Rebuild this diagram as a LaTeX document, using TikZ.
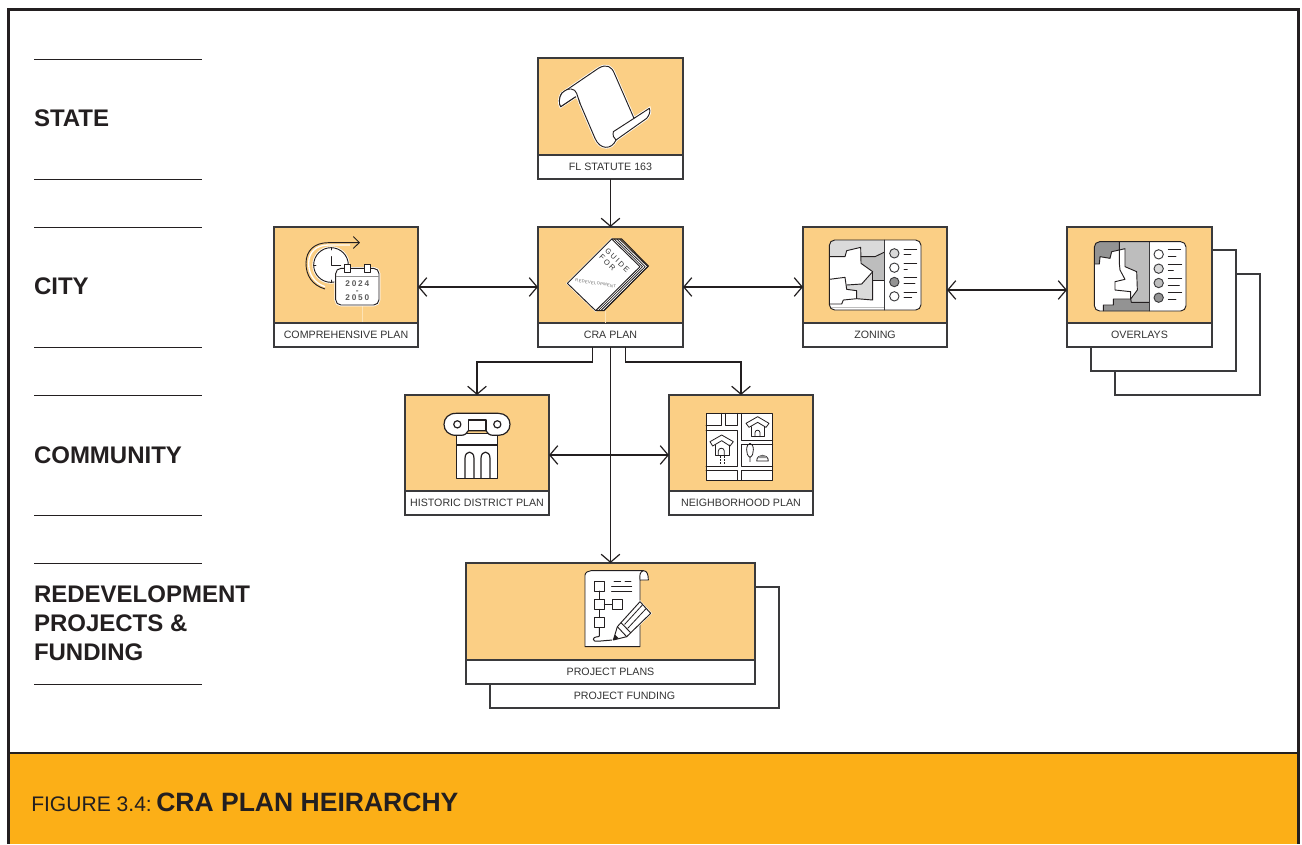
\documentclass[tikz,border=0pt]{standalone}
\usepackage{fontspec}
\setmainfont{Liberation Sans}
\usetikzlibrary{arrows.meta}
\definecolor{ink}{HTML}{231F20}
\definecolor{boxline}{HTML}{3A3A3C}
\definecolor{art}{HTML}{FBCF85}
\definecolor{band}{HTML}{FCAF17}
\definecolor{lblue}{HTML}{DADADA}
\definecolor{midg}{HTML}{BDBDBD}
\definecolor{darkg}{HTML}{939393}
\definecolor{txt}{HTML}{333333}
\definecolor{pale}{HTML}{FDE3B5}
\tikzset{
  frameline/.style={draw=ink,line width=2.2pt},
  rule/.style={draw=ink,line width=.75pt},
  heading/.style={font=\fontsize{18}{21.75}\selectfont\bfseries,text=ink,inner sep=0pt,outer sep=0pt,align=left},
  cardframe/.style={draw=boxline,fill=white,line width=.9pt,inner sep=0pt,outer sep=0pt},
  artbox/.style={draw=boxline,fill=art,line width=.9pt,inner sep=0pt,outer sep=0pt},
  labelbox/.style={draw=boxline,fill=white,line width=.9pt,inner sep=0pt,outer sep=0pt,font=\fontsize{8}{10}\selectfont,text=txt},
  link/.style={draw=ink,line width=.9pt,-{Straight Barb[length=6pt,width=14pt,line width=.9pt]}},
  dlink/.style={draw=ink,line width=.9pt,{Straight Barb[length=6pt,width=14pt,line width=.9pt]}-{Straight Barb[length=6pt,width=14pt,line width=.9pt]}},
  ic/.style={draw=ink,line width=.7pt,line join=round,line cap=round},
  ww/.style={ic,fill=white,preaction={draw=white,line width=2pt}},
  icontext/.style={inner sep=0pt,outer sep=0pt,text=txt},
}
\newcommand{\card}[7]{%
  \node[cardframe,anchor=north,minimum width=#4*.75pt,minimum height=#5*.75pt] (#1) at (#2,#3) {};
  \node[artbox,anchor=north,minimum width=#4*.75pt,minimum height=(#5-#6)*.75pt] (#1art) at (#1.north) {};
  \node[labelbox,anchor=south,minimum width=#4*.75pt,minimum height=#6*.75pt] (#1lab) at (#1.south) {\raisebox{-.6pt}{#7}};
}
\begin{document}
\begin{tikzpicture}[x=.75pt,y=-.75pt]
\useasboundingbox (0,0) rectangle (1302,844);
\fill[white] (0,0) rectangle (1302,844);
% footer band and frame
\fill[band] (8,753) rectangle (1299,844);
\draw[frameline] (8.5,844) -- (8.5,9.5) -- (1298.5,9.5) -- (1298.5,844);
\draw[frameline] (8.5,753) -- (1298.5,753);
\node[anchor=base west,inner sep=0pt,font=\fontsize{15.8}{18}\selectfont,text=ink] (figno) at (31,811) {FIGURE 3.4:};
\node[anchor=base west,inner sep=0pt,font=\fontsize{19.9}{24}\selectfont\bfseries,text=ink] (figtitle) at (156,811) {CRA PLAN HEIRARCHY};
% left column
\foreach \a/\b in {59/179,227/347,395/515,563/684}{
  \draw[rule] (34,\a) -- (202,\a);
  \draw[rule] (34,\b) -- (202,\b);
}
\node[heading,anchor=base west] (state) at (34,126) {STATE};
\node[heading,anchor=base west] (city) at (34,294) {CITY};
\node[heading,anchor=base west] (community) at (34,463) {COMMUNITY};
\node[heading,anchor=west] (redev) at (34,623.5) {REDEVELOPMENT\\PROJECTS \&\\FUNDING};
% back sheets
\node[cardframe,anchor=north west,minimum width=145*.75pt,minimum height=121*.75pt] (ovc) at (1115,274) {};
\node[cardframe,anchor=north west,minimum width=145*.75pt,minimum height=121*.75pt] (ovb) at (1091,250) {};
\node[cardframe,anchor=north west,minimum width=289*.75pt,minimum height=121*.75pt] (funding) at (490,587) {};
\node[inner sep=0pt,font=\fontsize{8}{10}\selectfont,text=txt] (fundinglab) at (624.5,695.5) {PROJECT FUNDING};
% cards
\card{fl}{610.5}{58}{145}{121}{24}{FL STATUTE 163}
\card{comp}{346}{227}{144}{120}{24}{COMPREHENSIVE PLAN}
\card{cra}{610.5}{227}{145}{120}{24}{CRA PLAN}
\card{zoning}{875}{227}{144}{120}{24}{ZONING}
\card{overlays}{1139.5}{227}{145}{120}{24}{OVERLAYS}
\card{hist}{477}{395}{144}{120}{24}{HISTORIC DISTRICT PLAN}
\card{neigh}{741}{395}{144}{120}{24}{NEIGHBORHOOD PLAN}
\card{proj}{610.5}{563}{289}{121}{24}{PROJECT PLANS}
% connectors
\draw[link] (fl.south) -- (cra.north);
\draw[dlink] (comp.east) -- (cra.west);
\draw[dlink] (cra.east) -- (zoning.west);
\draw[dlink] ([yshift=-2.25pt]zoning.east) -- ([yshift=-2.25pt]overlays.west);
\draw[link] ([xshift=-13.5pt]cra.south) -- ++(0,15) -| (hist.north);
\draw[link] ([xshift=11.25pt]cra.south) -- ++(0,15) -| (neigh.north);
\draw[link] (cra.south) -- (proj.north);
\draw[dlink] (hist.east) -- (neigh.west);
% --- scroll icon
\begin{scope}[shift={(530,50)},x=.25pt,y=-.25pt]
\draw[ww] (95,130) -- (205,55) .. controls (230,40) and (245,50) .. (253,70) -- (312,205) -- (358,175) .. controls (362,185) and (358,195) .. (350,205) -- (258,270) .. controls (245,300) and (210,300) .. (195,265) -- (150,160) .. controls (145,145) and (143,140) .. (137,140) -- (92,170) .. controls (85,160) and (88,140) .. cycle;
\fill[white] (95,130) .. controls (115,110) and (135,115) .. (140,130) -- (150,160) -- (137,140) -- (92,170) .. controls (85,160) and (88,140) .. cycle;
\draw[ic] (95,130) .. controls (88,140) and (85,160) .. (92,170) -- (137,140);
\draw[ic] (95,130) .. controls (115,110) and (135,115) .. (140,130) -- (150,160);
\draw[ic] (250,245) -- (312,205);
\draw[ic] (250,245) .. controls (248,255) and (250,265) .. (258,270);
\end{scope}
% --- clock and calendar icon
\begin{scope}[shift={(270,220)},x=.25pt,y=-.25pt]
\draw[ink,line width=.7pt] (165,207) .. controls (125,195) and (108,165) .. (108,130) .. controls (108,90) and (135,68) .. (175,68) -- (268,68);
\draw[white,line width=1pt] (165,200) .. controls (135,190) and (116,165) .. (116,130) .. controls (116,95) and (140,75) .. (175,75) -- (240,75);
\draw[ic] (250,50) -- (268,68) -- (250,85);
\draw[ww] (183,135) circle (52);
\draw[ic] (183,110) -- (183,135) -- (212,135);
\draw[ic] (183,83) -- (183,90);
\draw[ic] (131,135) -- (138,135);
\draw[ic] (183,180) -- (183,187);
\draw[pale,line width=.75pt] (277,255) -- (277,307);
\draw[ww,rounded corners=4pt] (197,145) rectangle (327,255);
\draw[darkg,line width=.9pt] (197,170) -- (327,170);
\draw[ic,fill=white] (223,133) rectangle (241,157);
\draw[ic,fill=white] (283,133) rectangle (301,157);
\node[icontext,align=center,font=\fontsize{6.2}{5.1}\selectfont\bfseries\addfontfeature{LetterSpace=22},text=txt!80] (years) at (262,212) {2024\\-\\2050};
\end{scope}
% --- CRA guide icon
\begin{scope}[shift={(530,220)},x=.25pt,y=-.25pt]
\draw[pale,line width=.75pt] (225,272) -- (225,308);
\foreach \d/\c in {25/ink,21/white,17/ink,13/white,9/ink,5/white}{
  \fill[\c] (245+\d,57) -- (330+\d,140) -- (197+\d,272) -- (112+\d,190) -- cycle;
}
\draw[ic,line width=.7pt,fill=white,preaction={draw=white,line width=1.5pt}] (245,57) -- (330,140) -- (197,272) -- (112,190) -- cycle;
\draw[ink,line width=.8pt] (245,57) -- (275,57) -- (355,138) -- (222,272) -- (197,272);
\node[icontext,rotate=-44,align=left,font=\fontsize{5.6}{6.3}\selectfont\addfontfeature{LetterSpace=22}] (guide) at (253,130) {GUIDE\\FOR};
\node[icontext,rotate=-9,text=txt!75,font=\fontsize{3.1}{4}\selectfont\addfontfeature{LetterSpace=8}] (redevw) at (197,190) {REDEVELOPMENT};
\end{scope}
% --- zoning icon
\begin{scope}[shift={(800,220)},x=.25pt,y=-.25pt]
\fill[white,rounded corners=4pt] (88,60) rectangle (363,270);
\begin{scope}
\clip[rounded corners=4pt] (88,60) rectangle (363,270);
\fill[lblue] (88,60) -- (252,60) -- (252,97) -- (225,110) -- (183,110) -- (182,82) -- (140,92) -- (135,110) -- (88,110) -- cycle;
\fill[midg] (183,110) -- (225,110) -- (252,97) -- (252,182) -- (218,182) -- (218,155) -- (183,130) -- cycle;
\fill[lblue] (140,195) -- (185,192) -- (218,158) -- (218,240) -- (168,236) -- (170,212) -- (140,208) -- cycle;
\draw[ic] (88,110) -- (135,110) -- (140,92) -- (182,82) -- (183,130) -- (218,155) -- (185,192) -- (140,195);
\draw[ic] (183,110) -- (225,110) -- (252,97);
\draw[ic] (218,155) -- (218,182) -- (252,182);
\draw[ic] (88,178) -- (135,172) -- (140,208) -- (170,212) -- (170,236) -- (130,240) -- (125,252) -- (88,252);
\draw[ic] (170,236) -- (218,240) -- (218,182);
\draw[midg,line width=.8pt] (88,262) -- (252,262);
\end{scope}
\draw[ic,draw=boxline] (252,60) -- (252,270);
\draw[ic,rounded corners=4pt] (88,60) rectangle (363,270);
\foreach \y/\f in {100/lblue,143/white,186/darkg,229/white}{\draw[ic,draw=boxline,fill=\f] (283,\y) circle (3.5pt);}
\foreach \y/\a/\b in {100/350/333,143/350/322,186/350/345,229/350/335}{
  \draw[ic,line width=.6pt] (312,\y-13) -- (\a,\y-13);
  \draw[ic,line width=.6pt] (312,\y+4) -- (\b,\y+4);
}
\end{scope}
% --- overlays icon
\begin{scope}[shift={(1060,220)},x=.25pt,y=-.25pt]
\fill[white,rounded corners=4pt] (103,65) rectangle (378,273);
\begin{scope}
\clip[rounded corners=4pt] (103,65) rectangle (378,273);
\fill[midg] (103,65) rectangle (267,273);
\fill[darkg] (103,65) -- (178,65) -- (178,90) -- (155,95) -- (150,115) -- (120,110) -- (118,132) -- (103,132) -- cycle;
\fill[darkg] (130,273) -- (130,255) -- (160,255) -- (160,237) -- (212,237) -- (214,247) -- (267,247) -- (267,273) -- cycle;
\fill[white] (103,132) -- (118,132) -- (120,110) -- (150,115) -- (155,95) -- (178,90) -- (195,86) -- (195,140) -- (230,155) -- (232,210) -- (212,237) -- (160,237) -- (160,255) -- (130,255) -- (130,273) -- (103,273) -- cycle;
\draw[ic] (178,65) -- (178,90) -- (155,95) -- (150,115) -- (120,110) -- (118,132) -- (103,132);
\draw[ic] (178,90) -- (195,86) -- (195,140) -- (230,155) -- (232,210) -- (212,237) -- (160,237) -- (160,255) -- (130,255) -- (130,273);
\draw[ic] (178,90) -- (178,130) -- (180,150) -- (195,178) -- (165,185) -- (165,210) -- (212,215) -- (212,237);
\draw[ic] (212,237) -- (214,247) -- (267,247);
\end{scope}
\draw[ic,draw=boxline] (267,65) -- (267,273);
\draw[ic,rounded corners=4pt] (103,65) rectangle (378,273);
\foreach \y/\f in {103/white,146/lblue,189/midg,233/darkg}{\draw[ic,draw=boxline,fill=\f] (296,\y) circle (3.5pt);}
\foreach \y/\a/\b in {88/362/348,132/365/340,176/365/358,218/365/348}{
  \draw[ic,line width=.6pt] (325,\y) -- (\a,\y);
  \draw[ic,line width=.6pt] (325,\y+20) -- (\b,\y+20);
}
\end{scope}
% --- column icon
\begin{scope}[shift={(400,390)},x=.25pt,y=-.25pt]
\draw[ic,line width=.9pt,fill=white] (170,130) rectangle (292,265);
\draw[ic,line width=.9pt] (170,165) -- (292,165);
\draw[ic,line width=.9pt,fill=white] (168,136) .. controls (146,136) and (132,122) .. (132,103) .. controls (132,84) and (146,70) .. (168,70) -- (295,70) .. controls (316,70) and (330,84) .. (330,103) .. controls (330,122) and (316,136) .. (295,136) -- (280,136) .. controls (268,136) and (262,130) .. (258,122) -- (205,122) .. controls (201,130) and (195,136) .. (182,136) -- cycle;
\draw[ic,line width=.9pt] (205,122) -- (205,90) -- (258,90) -- (258,122);
\draw[ic,line width=.9pt] (172,103) circle (2.7pt);
\draw[ic,line width=.9pt] (292,103) circle (2.7pt);
\foreach \a in {195,243}{
  \draw[ic,line width=.9pt] (\a,265) -- (\a,205) .. controls (\a,180) and (\a+27,180) .. (\a+27,205) -- (\a+27,265);
}
\end{scope}
% --- neighbourhood icon
\begin{scope}[shift={(665,390)},x=.25pt,y=-.25pt]
\fill[white] (123,70) rectangle (323,270);
\draw[ic,line width=.6pt] (123,70) rectangle (323,270);
\draw[ic,line width=.6pt] (123,105) -- (168,105) -- (168,70);
\draw[ic,line width=.6pt] (180,70) -- (180,105) -- (218,105) -- (218,70);
\draw[ic,line width=.6pt] (123,120) -- (218,120) -- (218,228) -- (123,228);
\draw[ic,line width=.6pt] (230,70) -- (230,150) -- (323,150);
\draw[ic,line width=.6pt] (230,270) -- (230,240) -- (323,240);
\draw[ic,line width=.6pt] (123,240) -- (218,240) -- (218,270);
\draw[ic,line width=.6pt] (323,163) -- (230,163) -- (230,228) -- (323,228);
\draw[ic,line width=.6pt] (243,100) -- (278,80) -- (312,100) -- (303,112) -- (278,97) -- (252,112) -- cycle;
\draw[ic,line width=.6pt] (258,110) -- (258,140) -- (298,140) -- (298,110);
\draw[ic,line width=.6pt] (270,140) -- (270,128) .. controls (270,118) and (285,118) .. (285,128) -- (285,140);
\draw[ic,line width=.6pt] (135,155) -- (170,135) -- (205,155) -- (195,168) -- (170,152) -- (143,168) -- cycle;
\draw[ic,line width=.6pt] (150,165) -- (150,195) -- (192,195) -- (192,165);
\draw[ic,line width=.6pt] (160,195) -- (160,183) .. controls (160,172) and (178,172) .. (178,183) -- (178,195);
\draw[ink,line width=.5pt,dash pattern=on 1.5pt off 1pt] (165,197) -- (165,228);
\draw[ink,line width=.5pt,dash pattern=on 1.5pt off 1pt] (177,197) -- (177,228);
\draw[ic,line width=.6pt] (255,202) .. controls (240,195) and (243,160) .. (255,160) .. controls (267,160) and (270,195) .. (255,202) -- (255,215);
\draw[ic,line width=.6pt] (275,213) .. controls (275,190) and (310,190) .. (310,213) -- cycle;
\fill[darkg] (278,204) .. controls (282,193) and (303,193) .. (307,204) -- cycle;
\end{scope}
% --- project icon
\begin{scope}[shift={(560,560)},x=.25pt,y=-.25pt]
\draw[ic,fill=white] (93,32) -- (250,32) .. controls (262,32) and (265,45) .. (265,60) -- (240,60) -- (240,260) -- (75,260) -- (75,45) .. controls (75,38) and (85,32) .. (93,32) -- cycle;
\draw[ic] (240,60) .. controls (238,45) and (240,35) .. (250,32);
\foreach \x/\y in {103/63,103/118,157/118,103/173}{\draw[ic,line width=.75pt] (\x,\y) rectangle ++(30,30);}
\draw[ic,line width=.75pt] (118,93) -- (118,118);
\draw[ic,line width=.75pt] (118,148) -- (118,173);
\draw[ic,line width=.75pt] (133,133) -- (157,133);
\draw[ic,line width=.75pt] (118,203) -- (118,228) .. controls (118,232) and (100,228) .. (100,238) .. controls (100,248) and (120,242) .. (160,240);
\draw[ic,line width=.65pt] (162,63) -- (182,63);
\draw[ic,line width=.65pt] (195,63) -- (213,63);
\draw[ic,line width=.65pt] (155,78) -- (215,78);
\draw[ic,line width=.65pt] (155,93) -- (215,93);
\draw[ic,fill=white,preaction={draw=white,line width=1.5pt}] (160,240) -- (172,200) -- (240,125) -- (272,160) -- (200,230) -- cycle;
\draw[ic] (172,200) -- (200,230);
\draw[ic] (183,188) -- (212,218);
\draw[ic,line width=.6pt] (194,193) -- (248,134);
\draw[ic,line width=.6pt] (204,204) -- (258,146);
\fill[ink] (160,240) -- (165,224) -- (176,235) -- cycle;
\end{scope}
\end{tikzpicture}
\end{document}
